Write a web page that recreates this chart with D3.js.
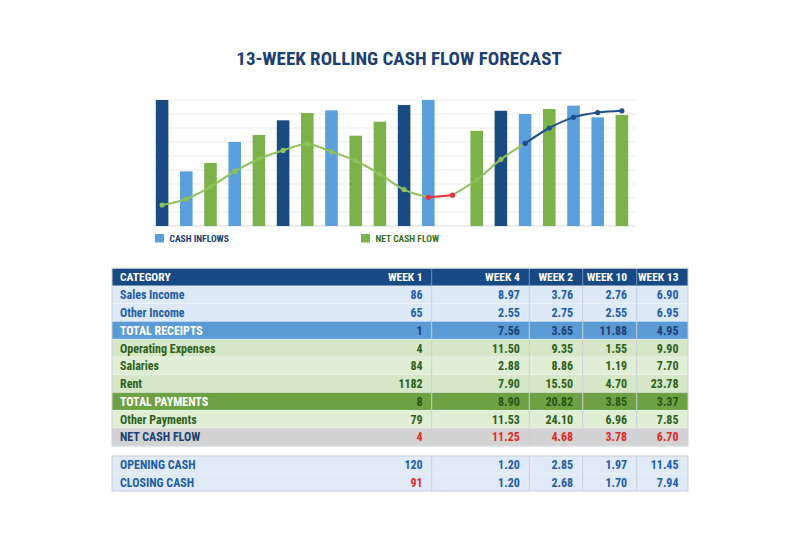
<!DOCTYPE html>
<html>
<head>
<meta charset="utf-8">
<script src="https://cdn.jsdelivr.net/npm/d3@7"></script>
<style>
  body { margin: 0; background: #fff; }
  svg { display: block; }
  text { font-family: "Roboto Condensed", "Liberation Sans Narrow", "DejaVu Sans Condensed", Roboto, sans-serif; font-weight: 700; }
</style>
</head>
<body>
<svg id="chart" width="800" height="533"></svg>
<script>
// ---- chart data ----
var slots = d3.range(1, 21).map(function(i) { return "S" + i; });
var barKinds = ["dark", "light", "green", "light", "green", "dark", "green", "light", "green", "green",
                "dark", "light", null, "green", "dark", "light", "green", "light", "light", "green"];
var barValues = [90, 39, 45, 60, 65, 75.5, 80.7, 82.6, 64.5, 74.5,
                 86.4, 90, null, 68, 82.3, 80, 83.6, 86, 77.6, 79.3];
var lineValues = [15, 19.3, 28, 39, 48, 54, 58.6, 53, 46.6, 37,
                  26, 20.5, 22, 33, 47.6, 59, 70, 77.6, 81, 82.3];
var lineSegments = [[0, 11, "green"], [11, 12, "red"], [12, 15, "green"], [15, 19, "navy"]];
var pointTones = ["green", "green", "green", "green", "green", "green", "green", "green", "green", "green",
                  "green", "red", "red", "green", "green", "navy", "navy", "navy", "navy", "navy"];
var legendLabels = ["CASH INFLOWS", "NET CASH FLOW"];

// ---- table data ----
var weeks = ["WEEK 1", "WEEK 4", "WEEK 2", "WEEK 10", "WEEK 13"];
var rowLabels = ["Sales Income", "Other Income", "TOTAL RECEIPTS", "Operating Expenses", "Salaries",
                 "Rent", "TOTAL PAYMENTS", "Other Payments", "NET CASH FLOW"];
var rowKinds = ["inc", "inc", "receipts", "pay", "pay2", "pay", "payments", "pay2", "net"];
var week1 = [86, 65, 1, 4, 84, 1182, 8, 79, 4];
var week4 = [8.97, 2.55, 7.56, 11.50, 2.88, 7.90, 8.90, 11.53, 11.25];
var week2 = [3.76, 2.75, 3.65, 9.35, 8.86, 15.50, 20.82, 24.10, 4.68];
var week10 = [2.76, 2.55, 11.88, 1.55, 1.19, 4.70, 3.85, 6.96, 3.78];
var week13 = [6.90, 6.95, 4.95, 9.90, 7.70, 23.78, 3.37, 7.85, 6.70];
var cashLabels = ["OPENING CASH", "CLOSING CASH"];
var cashWeek1 = [120, 91];
var cashWeek4 = [1.20, 1.20];
var cashWeek2 = [2.85, 2.68];
var cashWeek10 = [1.97, 1.70];
var cashWeek13 = [11.45, 7.94];

var colors = {
  dark: "#1a4a82", light: "#5b9fdc", green: "#7db24a",
  lineGreen: "#8dc15a", navy: "#1d4f8c", red: "#e8323a"
};

var svg = d3.select("#chart");

svg.append("text")
  .attr("x", 399)
  .attr("y", 65)
  .attr("text-anchor", "middle")
  .attr("font-size", "19px")
  .attr("fill", "#1b3f72")
  .text("13-WEEK ROLLING CASH FLOW FORECAST");

// ---- combo chart ----
var xScale = d3.scaleBand()
  .domain(slots)
  .range([150, 634])
  .paddingInner(0.48)
  .paddingOuter(0.24);

var yScale = d3.scaleLinear()
  .domain([0, 90])
  .range([226, 100]);

svg.append("g")
  .selectAll("line")
  .data(yScale.ticks(9))
  .enter()
  .append("line")
  .attr("x1", 153)
  .attr("x2", 636)
  .attr("y1", function(d) { return yScale(d); })
  .attr("y2", function(d) { return yScale(d); })
  .attr("stroke", function(d) { return d === 0 ? "#d9d9d9" : "#ececec"; })
  .attr("stroke-width", 1.2);

svg.append("g")
  .selectAll("rect")
  .data(barValues.map(function(v, i) { return { v: v, kind: barKinds[i], slot: slots[i] }; })
    .filter(function(d) { return d.v !== null; }))
  .enter()
  .append("rect")
  .attr("x", function(d) { return xScale(d.slot); })
  .attr("y", function(d) { return yScale(d.v); })
  .attr("width", xScale.bandwidth())
  .attr("height", function(d) { return yScale(0) - yScale(d.v); })
  .attr("fill", function(d) { return colors[d.kind]; });

var lineGen = d3.line()
  .x(function(d) { return xScale(slots[d]) + xScale.bandwidth() / 2; })
  .y(function(d) { return yScale(lineValues[d]); })
  .curve(d3.curveMonotoneX);

var segColor = { green: colors.lineGreen, red: colors.red, navy: colors.navy };

svg.append("g")
  .selectAll("path")
  .data(lineSegments)
  .enter()
  .append("path")
  .attr("d", function(s) { return lineGen(d3.range(s[0], s[1] + 1)); })
  .attr("fill", "none")
  .attr("stroke", function(s) { return segColor[s[2]]; })
  .attr("stroke-width", 2);

svg.append("g")
  .selectAll("circle")
  .data(lineValues)
  .enter()
  .append("circle")
  .attr("cx", function(d, i) { return xScale(slots[i]) + xScale.bandwidth() / 2; })
  .attr("cy", function(d) { return yScale(d); })
  .attr("r", 2.6)
  .attr("fill", function(d, i) { return segColor[pointTones[i]]; });

// legend
var legend = svg.append("g").selectAll("g")
  .data(legendLabels)
  .enter()
  .append("g")
  .attr("transform", function(d, i) { return "translate(" + (i === 0 ? 155 : 361) + ",234)"; });

legend.append("rect")
  .attr("width", 9)
  .attr("height", 8.5)
  .attr("fill", function(d, i) { return i === 0 ? colors.light : colors.green; });

legend.append("text")
  .attr("x", 14.5)
  .attr("y", 8)
  .attr("font-size", "9.5px")
  .attr("fill", function(d, i) { return i === 0 ? "#1b3f72" : "#3b7020"; })
  .text(function(d) { return d; });

// ---- table ----
var colEdges = [112, 431.7, 529.3, 582.7, 636.7, 688];
var rowStyles = {
  head:     { bg: "#174a84", label: "#ffffff", value: "#ffffff" },
  inc:      { bg: "#dde9f6", label: "#1f5ca3", value: "#1f5ca3" },
  receipts: { bg: "#5b9bd5", label: "#ffffff", value: "#1b3f72" },
  pay:      { bg: "#d5e7c7", label: "#2e5e1c", value: "#2e5e1c" },
  pay2:     { bg: "#e0eed6", label: "#2e5e1c", value: "#2e5e1c" },
  payments: { bg: "#6ea143", label: "#ffffff", value: "#2a5516" },
  net:      { bg: "#d3d3d3", label: "#1b3f72", value: "#e02a2a" },
  cash:     { bg: "#dfeaf6", label: "#1f5ca3", value: "#1f5ca3" }
};

var fmtInt = d3.format("d");
var fmtDec = d3.format(".2f");

var mainRows = [{ label: "CATEGORY", kind: "head", vals: weeks }].concat(rowLabels.map(function(l, i) {
  return { label: l, kind: rowKinds[i],
    vals: [fmtInt(week1[i]), fmtDec(week4[i]), fmtDec(week2[i]), fmtDec(week10[i]), fmtDec(week13[i])] };
}));
var cashRows = cashLabels.map(function(l, i) {
  return { label: l, kind: "cash", red1: i === 1,
    vals: [fmtInt(cashWeek1[i]), fmtDec(cashWeek4[i]), fmtDec(cashWeek2[i]), fmtDec(cashWeek10[i]), fmtDec(cashWeek13[i])] };
});

var rowY1 = d3.scaleBand().domain(d3.range(mainRows.length)).range([268.3, 446]);
var rowY2 = d3.scaleBand().domain(d3.range(cashRows.length)).range([456, 491]);

function drawTable(rows, rowY) {
  var g = svg.append("g");
  var rowG = g.selectAll("g")
    .data(rows)
    .enter()
    .append("g")
    .attr("transform", function(d, i) { return "translate(0," + rowY(i) + ")"; });

  rowG.append("rect")
    .attr("x", colEdges[0])
    .attr("width", colEdges[5] - colEdges[0])
    .attr("height", rowY.bandwidth())
    .attr("fill", function(d) { return rowStyles[d.kind].bg; });

  rowG.append("line")
    .attr("x1", colEdges[0])
    .attr("x2", colEdges[5])
    .attr("y1", rowY.bandwidth())
    .attr("y2", rowY.bandwidth())
    .attr("stroke", "#f4f6f8")
    .attr("stroke-width", 1);

  rowG.selectAll("line.sep")
    .data(function(d) { return colEdges.slice(1, 5).map(function(x) { return { x: x, kind: d.kind }; }); })
    .enter()
    .append("line")
    .attr("class", "sep")
    .attr("x1", function(d) { return d.x; })
    .attr("x2", function(d) { return d.x; })
    .attr("y1", 0)
    .attr("y2", rowY.bandwidth())
    .attr("stroke", function(d) { return d.kind === "head" ? "#6f8fb5" : "#c7d1da"; })
    .attr("stroke-width", 1);

  rowG.append("text")
    .attr("x", colEdges[0] + 8)
    .attr("y", rowY.bandwidth() / 2)
    .attr("dy", "0.36em")
    .attr("font-size", function(d) { return d.kind === "head" ? "11.5px" : "12px"; })
    .attr("fill", function(d) { return rowStyles[d.kind].label; })
    .text(function(d) { return d.label; });

  rowG.selectAll("text.val")
    .data(function(d) { return d.vals.map(function(v, j) { return { v: v, j: j, row: d }; }); })
    .enter()
    .append("text")
    .attr("class", "val")
    .attr("x", function(d) { return colEdges[d.j + 1] - (d.j === 0 ? 9 : 9.5); })
    .attr("y", rowY.bandwidth() / 2)
    .attr("dy", "0.36em")
    .attr("text-anchor", "end")
    .attr("font-size", function(d) { return d.row.kind === "head" ? "11.5px" : "12px"; })
    .attr("fill", function(d) {
      if (d.row.red1 && d.j === 0) return "#e02a2a";
      return rowStyles[d.row.kind].value;
    })
    .text(function(d) { return d.v; });

  g.append("rect")
    .attr("x", colEdges[0])
    .attr("y", rowY.range()[0])
    .attr("width", colEdges[5] - colEdges[0])
    .attr("height", rowY.range()[1] - rowY.range()[0])
    .attr("fill", "none")
    .attr("stroke", "#c9cfd6")
    .attr("stroke-width", 1);
}

drawTable(mainRows, rowY1);
drawTable(cashRows, rowY2);
</script>
</body>
</html>
